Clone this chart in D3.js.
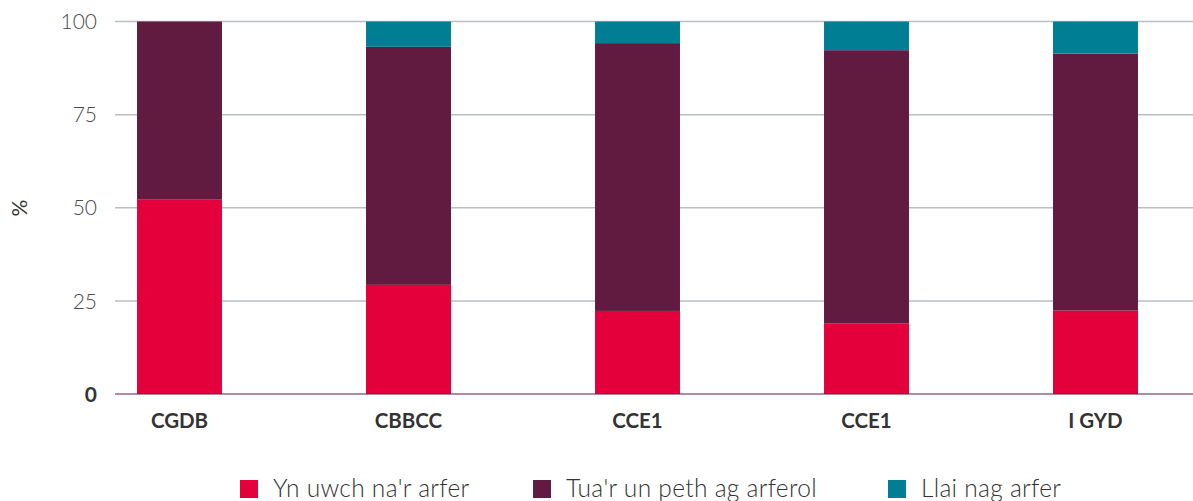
<!DOCTYPE html>
<html><head><meta charset="utf-8">
<script src="https://cdn.jsdelivr.net/npm/d3@7"></script>
<style>body{margin:0;background:#fff}svg{display:block}</style>
</head><body>
<svg id="c" width="1193" height="501"></svg>
<script>
const categories = ["CGDB","CBBCC","CCE1","CCE1","I GYD"];
const higher = [52.3, 29.3, 22.3, 18.9, 22.4];
const same   = [47.7, 63.9, 71.9, 73.4, 69.0];
const lower  = [0.0, 6.8, 5.8, 7.7, 8.6];
const seriesNames = ["Yn uwch na'r arfer","Tua'r un peth ag arferol","Llai nag arfer"];
const colors = ["#e4003b","#611b40","#007f94"];
const yTicks = [0,25,50,75,100];

const svg = d3.select("#c");
const font = "Lato, 'Noto Sans', sans-serif";
const y = d3.scaleLinear().domain([0,100]).range([394,21.5]);
const x = d3.scaleBand().domain(d3.range(categories.length)).range([65,1210]).paddingInner(0.629).paddingOuter(0.3145);

// gridlines
svg.append("g").selectAll("line").data(yTicks.filter(d=>d>0)).join("line")
  .attr("x1",115).attr("x2",1193).attr("y1",d=>y(d)).attr("y2",d=>y(d))
  .attr("stroke","#b9bec5").attr("stroke-width",1.5);

const rows = categories.map((c,i)=>({i, v:[higher[i], same[i], lower[i]]}));
const stack = d3.stack().keys([0,1,2]).value((d,k)=>d.v[k]);
const stacked = stack(rows);
svg.append("g").selectAll("g").data(stacked).join("g").attr("fill",(d,k)=>colors[k])
  .selectAll("rect").data(d=>d).join("rect")
  .attr("x",d=>x(d.data.i)).attr("width",x.bandwidth())
  .attr("y",d=>y(d[1])).attr("height",d=>Math.max(0,y(d[0])-y(d[1])));

// baseline
svg.append("line").attr("x1",115).attr("x2",1193).attr("y1",y(0)).attr("y2",y(0))
  .attr("stroke","#611b40").attr("stroke-width",1.2);

// y axis labels
const yAxis = d3.axisLeft(y).tickValues(yTicks).tickSize(0).tickPadding(0);
const ya = svg.append("g").attr("transform","translate(97,0)").call(yAxis);
ya.select(".domain").remove();
ya.selectAll("text").attr("font-family",font).attr("font-size",21)
  .attr("font-weight",d=>d===0?700:300).attr("fill",d=>d===0?"#333":"#4a4a4a").attr("dy","0.34em");

// x axis labels
const xAxis = d3.axisBottom(x).tickSize(0).tickPadding(0).tickFormat(i=>categories[i]);
const xa = svg.append("g").attr("transform","translate(0,428)").call(xAxis);
xa.select(".domain").remove();
xa.selectAll("text").attr("font-family",font).attr("font-size",20.5).attr("font-weight",700)
  .attr("fill","#333").attr("dy",0);

// y title
svg.append("text").attr("transform","translate(27,208) rotate(-90)").attr("text-anchor","middle")
  .attr("font-family",font).attr("font-size",21).attr("fill","#333").text("%");

// legend
const legX = [240,533,888];
const lg = svg.append("g").selectAll("g").data(seriesNames).join("g")
  .attr("transform",(d,i)=>`translate(${legX[i]},480)`);
lg.append("rect").attr("width",18).attr("height",18).attr("fill",(d,i)=>colors[i]);
lg.append("text").attr("x",33).attr("y",17).attr("font-family",font).attr("font-size",24.5)
  .attr("font-weight",300).attr("letter-spacing",0.3).attr("fill","#333").text(d=>d);
</script>
</body></html>
